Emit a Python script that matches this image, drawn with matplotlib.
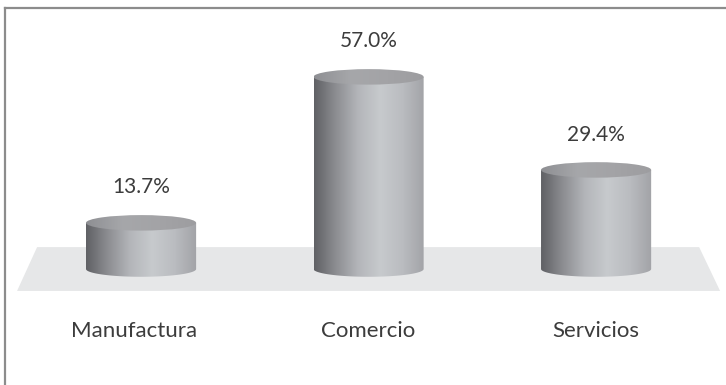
import numpy as np
import matplotlib
matplotlib.use("Agg")
import matplotlib.pyplot as plt
from matplotlib.path import Path
from matplotlib.patches import PathPatch, Ellipse, Polygon
from matplotlib.colors import LinearSegmentedColormap
from matplotlib.lines import Line2D

plt.rcParams['font.family'] = ['Lato', 'DejaVu Sans']

categories = ["Manufactura", "Comercio", "Servicios"]
values = [13.7, 57.0, 29.4]
value_labels = ["13.7%", "57.0%", "29.4%"]

# cylinder shape (data units)
half_w = 0.242
ell_h = 2.3

body_cmap = LinearSegmentedColormap.from_list(
    "body", ["#606165", "#8d8e92", "#b4b6ba", "#c7cacd", "#babcc0", "#a2a3a7"])
top_cmap = LinearSegmentedColormap.from_list(
    "top", ["#8e8f93", "#a6a7aa", "#a3a3a6", "#9d9da0"])

fig = plt.figure(figsize=(7.26, 3.85), dpi=100)
ax = fig.add_axes([0, 0, 1, 1])
ax.axis('off')

# floor plane
floor = Polygon([(-0.457, 6.5), (2.453, 6.5), (2.545, -6.5), (-0.545, -6.5)],
                closed=True, facecolor="#e6e7e8", edgecolor="none", zorder=1)
ax.add_patch(floor)

grad = np.linspace(0, 1, 256).reshape(1, -1)


def draw_cylinder(x, v):
    t = np.linspace(np.pi, 2 * np.pi, 60)
    bottom = np.column_stack([x + half_w * np.cos(t), ell_h * np.sin(t)])
    verts = [(x - half_w, v)] + list(map(tuple, bottom)) + [(x + half_w, v), (x - half_w, v)]
    codes = [Path.MOVETO] + [Path.LINETO] * (len(verts) - 2) + [Path.CLOSEPOLY]
    body = PathPatch(Path(verts, codes), facecolor="none", edgecolor="none", zorder=2)
    ax.add_patch(body)
    im = ax.imshow(grad, cmap=body_cmap, aspect='auto', interpolation='bilinear',
                   extent=[x - half_w, x + half_w, -ell_h, v], zorder=2)
    im.set_clip_path(body)

    top = Ellipse((x, v), 2 * half_w, 2 * ell_h, facecolor="none", edgecolor="none", zorder=3)
    ax.add_patch(top)
    im2 = ax.imshow(grad, cmap=top_cmap, aspect='auto', interpolation='bilinear',
                    extent=[x - half_w, x + half_w, v - ell_h, v + ell_h], zorder=3)
    im2.set_clip_path(top)


for i, (cat, v, lab) in enumerate(zip(categories, values, value_labels)):
    draw_cylinder(i, v)
    ax.text(i, v + 10.5, lab, ha='center', va='center', fontsize=15,
            fontweight='normal', color="#3c3c3c", zorder=4)
    ax.text(i - 0.03 if i == 0 else i, -18.4, cat, ha='center', va='center', fontsize=16,
            fontweight='normal', color="#3c3c3c", zorder=4)

ax.set_xlim(-0.62, 2.571)
ax.set_ylim(-34.4, 79.8)

# frame lines (top and left)
fig.add_artist(Line2D([5 / 726, 1], [1 - 8 / 385, 1 - 8 / 385],
                      transform=fig.transFigure, color="#8c8c8c", lw=1.6))
fig.add_artist(Line2D([5 / 726, 5 / 726], [0, 1 - 8 / 385],
                      transform=fig.transFigure, color="#8c8c8c", lw=1.6))

fig.savefig("out.png", dpi=100, facecolor="white")
